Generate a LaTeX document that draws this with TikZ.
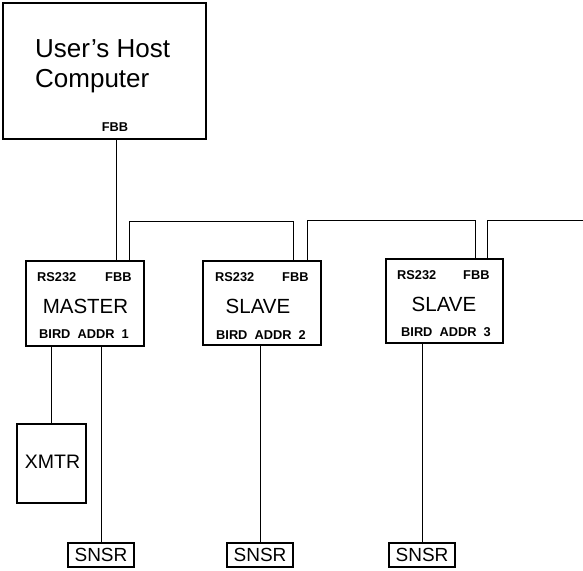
\documentclass[tikz,border=0pt]{standalone}
\usepackage{fontspec}
\setmainfont{Liberation Sans}
\begin{document}
\begin{tikzpicture}[x=1pt,y=-1pt,
  box/.style={draw,line width=1.4pt,inner sep=0pt},
  wire/.style={line width=0.9pt},
  small/.style={font=\bfseries\fontsize{12.8}{14}\selectfont,inner sep=0pt},
  big/.style={font=\fontsize{20.5}{24}\selectfont,inner sep=0pt},
  huge/.style={font=\fontsize{26}{30}\selectfont,inner sep=0pt},
]
\useasboundingbox (0,0) rectangle (583,570);
% host
\node[box,minimum width=203pt,minimum height=136pt] (host) at (104.5,71) {};
\node[huge,anchor=base west] (hostA) at (35,57) {User’s Host};
\node[huge,anchor=base west] (hostB) at (35,87) {Computer};
\node[small,font=\bfseries\fontsize{12.8}{14}\selectfont,anchor=base] (hostfbb) at (115,131) {FBB};
% master
\node[box,minimum width=118pt,minimum height=85pt] (master) at (85,303.5) {};
\node[small,anchor=base west] (mrs) at (37,281) {RS232};
\node[small,anchor=base west] (mfbb) at (105,281) {FBB};
\node[big,anchor=base] (mname) at (85.5,313) {MASTER};
\node[small,anchor=base west] (maddr) at (39,338) {BIRD\ \ ADDR\ \ 1};
% slave 2
\node[box,minimum width=118pt,minimum height=84pt] (slave2) at (262,303) {};
\node[small,anchor=base west] (s2rs) at (215,281) {RS232};
\node[small,anchor=base west] (s2fbb) at (282,281) {FBB};
\node[big,anchor=base] (s2name) at (258,313) {SLAVE};
\node[small,anchor=base west] (s2addr) at (216,339) {BIRD\ \ ADDR\ \ 2};
% slave 3
\node[box,minimum width=117pt,minimum height=84pt] (slave3) at (444.5,301) {};
\node[small,anchor=base west] (s3rs) at (397,279) {RS232};
\node[small,anchor=base west] (s3fbb) at (463,279) {FBB};
\node[big,anchor=base] (s3name) at (444,311) {SLAVE};
\node[small,anchor=base west] (s3addr) at (401,336) {BIRD\ \ ADDR\ \ 3};
% xmtr
\node[box,minimum width=69pt,minimum height=79pt] (xmtr) at (51.5,463.5) {};
\node[big,font=\fontsize{19.5}{22}\selectfont,anchor=base] (xmtrt) at (52.5,468) {XMTR};
% sensors
\node[box,minimum width=66pt,minimum height=24pt,font=\fontsize{19}{22}\selectfont] (snsr1) at (101,555) {SNSR};
\node[box,minimum width=66pt,minimum height=24pt,font=\fontsize{19}{22}\selectfont] (snsr2) at (260,555) {SNSR};
\node[box,minimum width=66pt,minimum height=24pt,font=\fontsize{19}{22}\selectfont] (snsr3) at (422,555) {SNSR};
% bus
\draw[wire] ([xshift=11.5pt]host.south) -- ([xshift=31pt]master.north);
\draw[wire] ([xshift=44pt]master.north) -- ++(0,-39) -| ([xshift=31pt]slave2.north);
\draw[wire] ([xshift=45pt]slave2.north) -- ++(0,-40) -| ([xshift=30.5pt]slave3.north);
\coordinate (busend) at (583,220);
\draw[wire] ([xshift=42.5pt]slave3.north) |- (busend);
% downlinks
\draw[wire] (xmtr.north |- master.south) -- (xmtr.north);
\draw[wire] (snsr1.north |- master.south) -- (snsr1.north);
\draw[wire] (snsr2.north |- slave2.south) -- (snsr2.north);
\draw[wire] (snsr3.north |- slave3.south) -- (snsr3.north);
\end{tikzpicture}
\end{document}
